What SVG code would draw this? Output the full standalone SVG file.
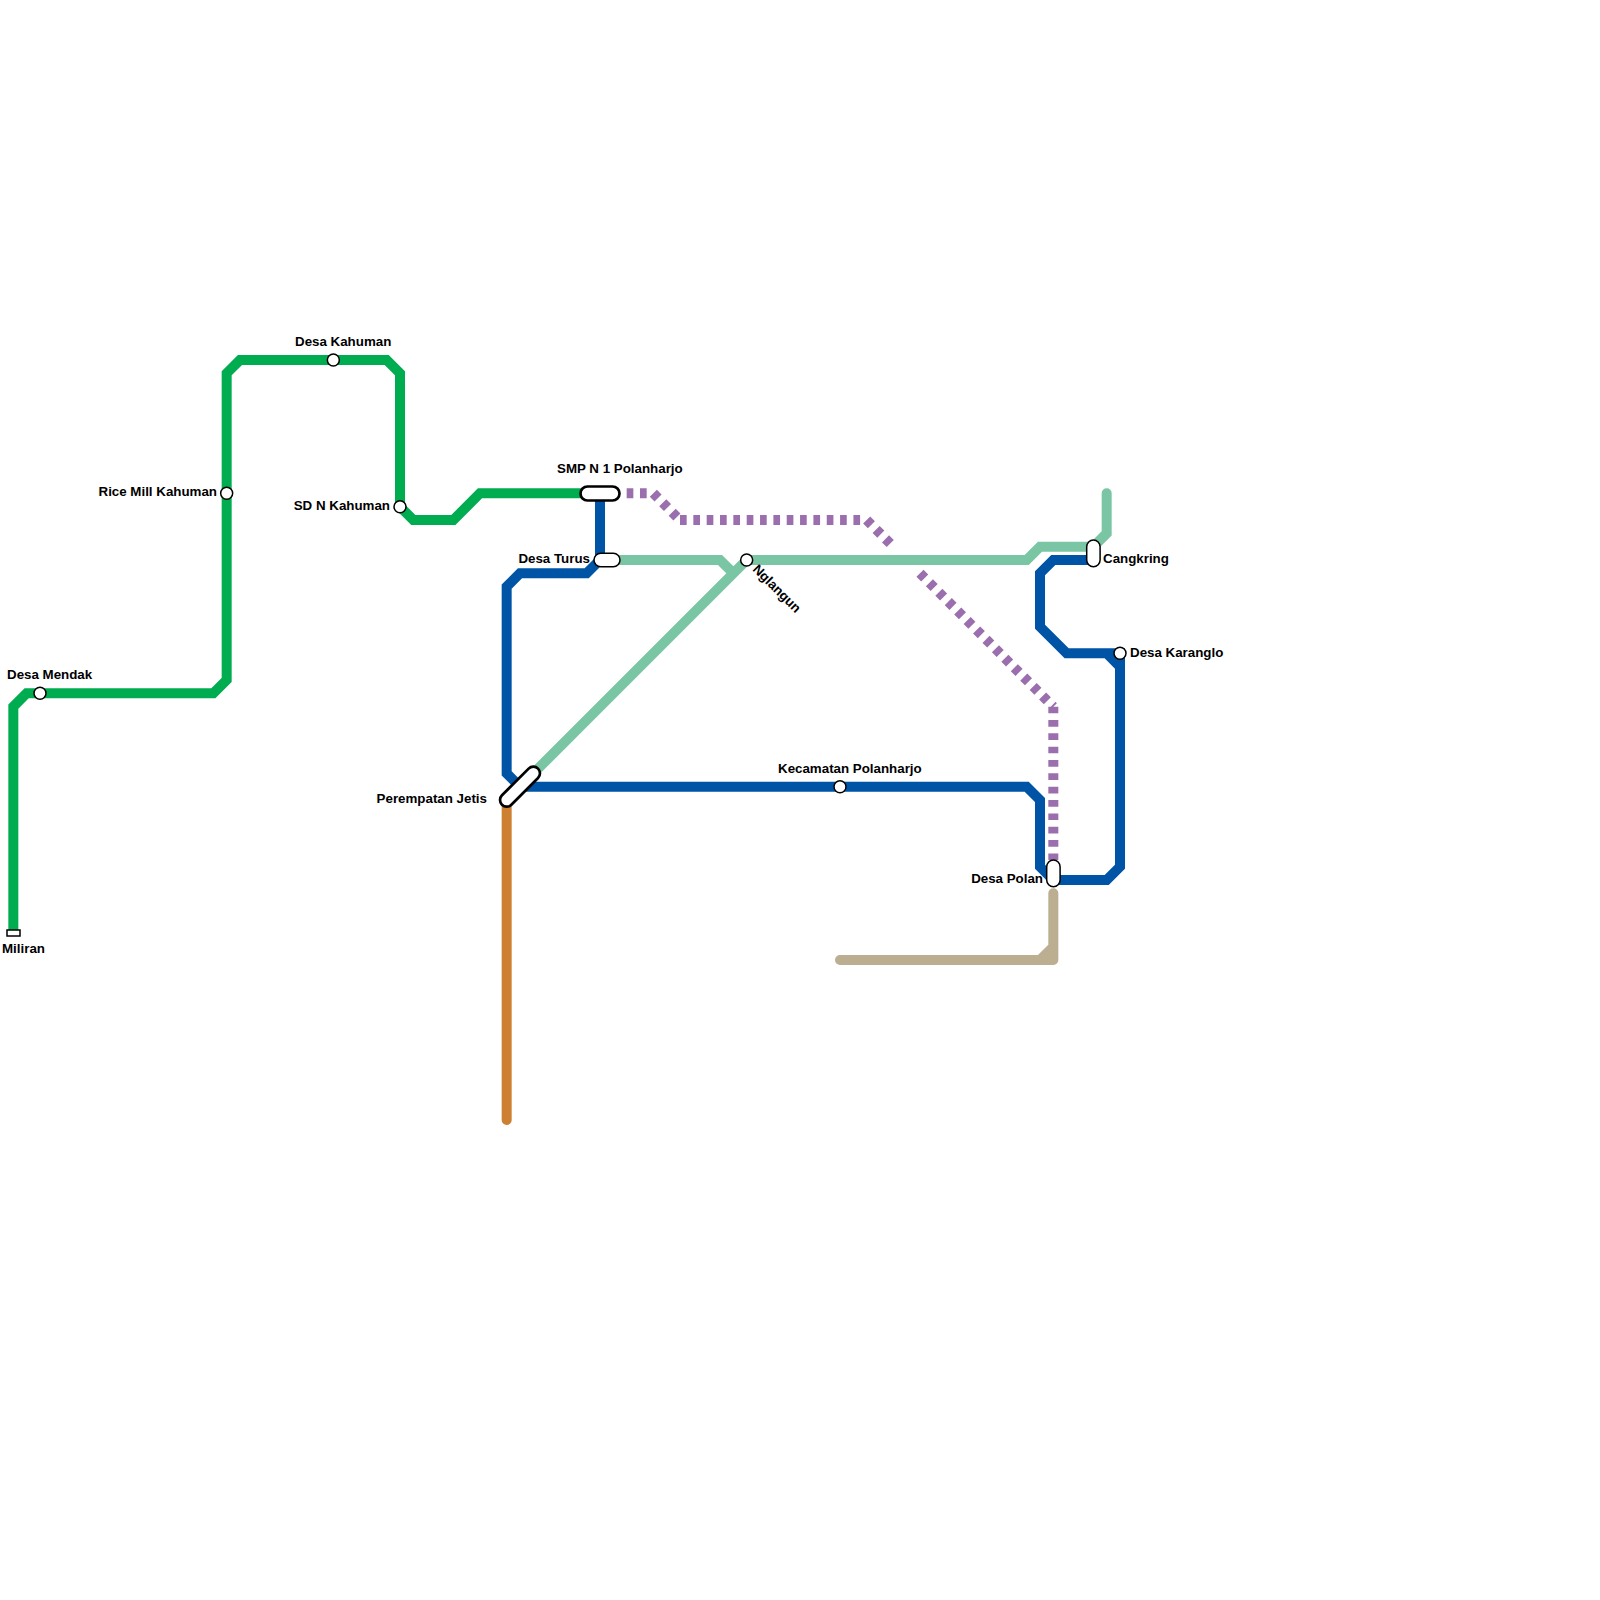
<svg xmlns="http://www.w3.org/2000/svg" width="1600" height="1600" viewBox="0 0 1600 1600">
<style>
.l{fill:none;stroke-width:10;stroke-linejoin:miter;stroke-linecap:round}
.p{fill:none;stroke:#9b6fae;stroke-width:10;stroke-dasharray:6.67 6.67}
.s{fill:#fff;stroke:#000;stroke-width:1.5}
.b{fill:#fff;stroke:#000;stroke-width:2.7}
text{font-family:"Liberation Sans",Arial,sans-serif;font-weight:700;font-size:13.33px;fill:#000}
.e{text-anchor:end}
</style>
<rect width="1600" height="1600" fill="#fff"/>
<g id="connectors">
<path class="l" style="stroke-linecap:butt" stroke="#00ac50" d="M13.33 933.33V706.67L26.67 693.33H213.33L226.67 680V373.33L240 360H386.67L400 373.33V506.67L413.33 520H453.33L480 493.33H600"/>
<path class="l" stroke="#7ac5a3" d="M1106.67 493.33V533.33L1093.33 546.67H1040L1026.67 560H746.67M600 560H720L733.33 573.33M746.67 560L533.33 773.33"/>
<path class="l" stroke="#0054a6" d="M600 493.33V560L586.67 573.33H520L506.67 586.67V773.33L520 786.67H1026.67L1040 800V866.67L1053.33 880H1106.67L1120 866.67V653.33H1066.67L1040 626.67V573.33L1053.33 560H1093.33M1120 666.67L1106.67 653.33"/>
<path class="p" d="M626.67 493.33H653.33M653.33 493.33L680 520M680 520H866.67M866.67 520L893.33 546.67M920 573.33L1053.33 706.67M1053.33 706.67V866.67"/>
<path class="l" style="stroke-linejoin:round" stroke="#bbae91" d="M840 960H1040L1053.33 946.67M1053.33 893.33V960H1040"/>
<path class="l" stroke="#cd7f32" d="M506.67 800V1120"/>
</g>
<g id="miliran"><rect class="s" x="7" y="930" width="13" height="6"/><text x="2" y="953">Miliran</text></g>
<g id="desa-mendak"><circle class="s" cx="40" cy="693.33" r="6"/><text x="7" y="679">Desa Mendak</text></g>
<g id="rice-mill-kahuman"><circle class="s" cx="226.67" cy="493.33" r="6"/><text class="e" x="217" y="496">Rice Mill Kahuman</text></g>
<g id="desa-kahuman"><circle class="s" cx="333.33" cy="360" r="6"/><text x="295" y="346">Desa Kahuman</text></g>
<g id="sd-n-kahuman"><circle class="s" cx="400" cy="506.67" r="6"/><text class="e" x="390" y="510">SD N Kahuman</text></g>
<g id="smp-n-1-polanharjo"><rect class="b" x="580.5" y="486.5" width="39" height="14" rx="7"/><text x="557" y="473">SMP N 1 Polanharjo</text></g>
<g id="desa-turus"><rect class="s" x="594" y="553.3" width="26" height="13.4" rx="6.7"/><text class="e" x="590" y="563">Desa Turus</text></g>
<g id="nglangun"><circle class="s" cx="746.67" cy="560" r="6"/><text transform="translate(752 570) rotate(45)">Nglangun</text></g>
<g id="cangkring"><rect class="s" x="1086.7" y="540" width="13.4" height="26.7" rx="6.7"/><text x="1103" y="563">Cangkring</text></g>
<g id="desa-karanglo"><circle class="s" cx="1120" cy="653.33" r="6"/><text x="1130" y="657">Desa Karanglo</text></g>
<g id="kecamatan-polanharjo"><circle class="s" cx="840" cy="786.67" r="6"/><text x="778" y="773">Kecamatan Polanharjo</text></g>
<g id="desa-polan"><rect class="s" x="1046.7" y="860" width="13.4" height="26.7" rx="6.7"/><text class="e" x="1043" y="883">Desa Polan</text></g>
<g id="perempatan-jetis"><path d="M506.67 800L533.33 773.33" stroke="#000" stroke-width="16" stroke-linecap="round"/><path d="M506.67 800L533.33 773.33" stroke="#fff" stroke-width="10.6" stroke-linecap="round"/><text class="e" x="487" y="803">Perempatan Jetis</text></g>
</svg>
